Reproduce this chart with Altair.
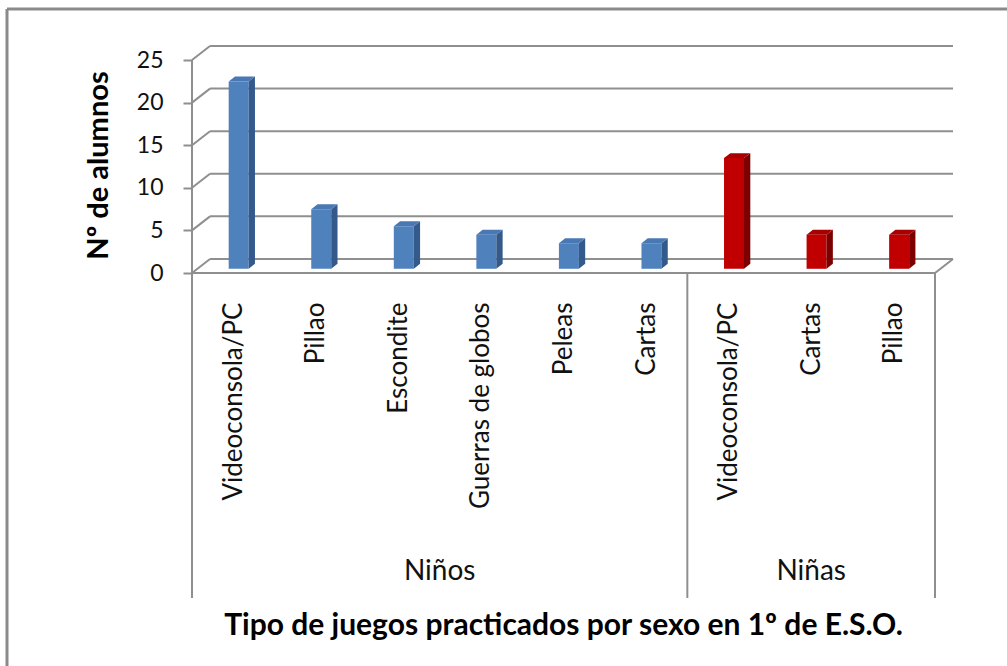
import altair as alt
import pandas as pd

# ---- data -------------------------------------------------------------
categories = ["Videoconsola/PC", "Pillao", "Escondite", "Guerras de globos",
              "Peleas", "Cartas", "Videoconsola/PC", "Cartas", "Pillao"]
groups = ["Niños"] * 6 + ["Niñas"] * 3
alumnos = [22, 7, 5, 4, 3, 3, 13, 4, 4]
group_names = ["Niños", "Niñas"]
y_ticks = [0, 5, 10, 15, 20, 25]
x_title = "Tipo de juegos practicados por sexo en 1º de E.S.O."
y_title = "Nº de alumnos"

# ---- 3D look (data units) ----------------------------------------------
DX = 0.218          # depth of the box along x (in categories)
DY = 1.65           # depth of the box along y (in alumnos)
F0, F1 = 0.30, 0.65 # front / back depth of each column
HALF = 0.121        # half width of a column's front face
N = len(categories)

palette = {
    "Niños": {"front": "#4F81BD", "side": "#345A8C", "top": "#4978B4"},
    "Niñas": {"front": "#C00000", "side": "#7C0000", "top": "#A80000"},
}
GRID = "#8F8F8F"
FONT = "Lato"

W, H = 761, 227
PAD = {"left": 192, "top": 46, "right": 1007 - 192 - W, "bottom": 666 - 46 - H}

xs = alt.Scale(domain=[0, N + DX], nice=False, zero=False)
ys = alt.Scale(domain=[0, 25 + DY], nice=False, zero=False)

# ---- column faces ------------------------------------------------------
front_rows, side_rows, top_rows = [], [], []
for i, (g, v) in enumerate(zip(groups, alumnos)):
    c = i + 0.5
    L = c - HALF + F0 * DX
    R = c + HALF + F0 * DX
    d = (F1 - F0) * DX
    b0, b1 = F0 * DY, F1 * DY
    t0, t1 = v + F0 * DY, v + F1 * DY
    col = palette[g]
    front_rows.append(dict(id=i, x=L, x2=R, y=b0, y2=t0, color=col["front"],
                           cat=categories[i], n=v))
    side_rows += [dict(id=i, x=R, yt=t0, yb=b0, color=col["side"]),
                  dict(id=i, x=R + d, yt=t1, yb=b1, color=col["side"])]
    top_rows += [dict(id=i, x=L, yt=t0, yb=t0, color=col["top"]),
                 dict(id=i, x=L + d, yt=t1, yb=t0, color=col["top"]),
                 dict(id=i, x=R, yt=t1, yb=t0, color=col["top"]),
                 dict(id=i, x=R + d, yt=t1, yb=t1, color=col["top"])]

front_df = pd.DataFrame(front_rows)
side_df = pd.DataFrame(side_rows)
top_df = pd.DataFrame(top_rows)

# ---- walls / floor -----------------------------------------------------
back_grid = pd.DataFrame({"x": [DX] * len(y_ticks), "x2": [N + DX] * len(y_ticks),
                          "y": [t + DY for t in y_ticks]})
side_wall = pd.DataFrame({"x": [0.0] * len(y_ticks), "x2": [DX] * len(y_ticks),
                          "y": y_ticks, "y2": [t + DY for t in y_ticks]})
floor = pd.DataFrame({"x": [0.0, N], "x2": [N, N + DX], "y": [0.0, 0.0], "y2": [0.0, DY]})

# vertical dividers of the category axis (left edge runs up to 25)
n_first = groups.count(group_names[0])
dividers = pd.DataFrame({"x": [0, n_first, N], "y": [25, 0, 0]})
group_lbl = pd.DataFrame({"name": group_names,
                          "x": [n_first / 2, n_first + (N - n_first) / 2]})

label_expr = "[" + ",".join(f"'{c}'" for c in categories) + "][round(datum.value - 0.5)]"

x_axis = alt.Axis(values=[i + 0.5 for i in range(N)], labelExpr=label_expr,
                  labelAngle=270, labelAlign="right", labelBaseline="middle",
                  labelPadding=29, labelFontSize=26, labelFont=FONT, labelColor="#111",
                  labelOverlap=False, labelFlush=False, labelBound=False, labelLimit=0,
                  ticks=False, domain=False, grid=False,
                  title=x_title, titleFont=FONT, titleFontSize=30, titleFontWeight="bold",
                  titleColor="#000", titleAnchor="start", titleAlign="center",
                  titleX=371, titleY=361, titleBaseline="alphabetic", titleLimit=0)
y_axis = alt.Axis(values=y_ticks, domain=False, grid=False,
                  ticks=True, tickSize=9, tickWidth=2, tickColor=GRID,
                  labelFontSize=23, labelFont=FONT, labelColor="#111", labelPadding=20,
                  title=y_title, titleFont=FONT, titleFontSize=29, titleFontWeight="bold",
                  titleColor="#000", titleAngle=270, titleAlign="center",
                  titleBaseline="alphabetic", titleX=-85, titleY=119, titleLimit=0)


def X(field):
    return alt.X(field, scale=xs, axis=x_axis)


def Y(field):
    return alt.Y(field, scale=ys, axis=y_axis)


line = dict(color=GRID, strokeWidth=2)

grid_back = alt.Chart(back_grid).mark_rule(**line).encode(
    x=X("x:Q"), x2="x2:Q", y=Y("y:Q"))
grid_side = alt.Chart(side_wall).mark_rule(**line).encode(
    x=X("x:Q"), x2="x2:Q", y=Y("y:Q"), y2="y2:Q")
floor_lines = alt.Chart(floor).mark_rule(**line).encode(
    x=X("x:Q"), x2="x2:Q", y=Y("y:Q"), y2="y2:Q")
divider_lines = alt.Chart(dividers).mark_rule(**line).encode(
    x=X("x:Q"), y=Y("y:Q"), y2=alt.value(552))

fronts = alt.Chart(front_df).mark_rect().encode(
    x=X("x:Q"), x2="x2:Q", y=Y("y:Q"), y2="y2:Q",
    color=alt.Color("color:N", scale=None),
    tooltip=["cat:N", "n:Q"])
sides = alt.Chart(side_df).mark_area(interpolate="linear").encode(
    x=X("x:Q"), y=Y("yt:Q"), y2="yb:Q",
    detail="id:N", color=alt.Color("color:N", scale=None))
tops = alt.Chart(top_df).mark_area(interpolate="linear").encode(
    x=X("x:Q"), y=Y("yt:Q"), y2="yb:Q",
    detail="id:N", color=alt.Color("color:N", scale=None))

group_text = alt.Chart(group_lbl).mark_text(
    font=FONT, fontSize=28, color="#111", baseline="middle", align="center").encode(
    x=X("x:Q"), y=alt.value(526), text="name:N")

# outer chart frame (top and left edges)
frame_top = alt.Chart(pd.DataFrame({"k": [0]})).mark_rule(color="#8A8A8A", strokeWidth=3).encode(
    x=alt.value(-185), x2=alt.value(W + 80), y=alt.value(-37))
frame_left = alt.Chart(pd.DataFrame({"k": [0]})).mark_rule(color="#8A8A8A", strokeWidth=3).encode(
    x=alt.value(-185), y=alt.value(-37), y2=alt.value(H + 420))

chart = alt.layer(
    grid_back, grid_side, floor_lines, divider_lines,
    fronts, sides, tops, group_text, frame_top, frame_left
).properties(
    width=W, height=H,
    autosize=alt.AutoSizeParams(type="none"),
    padding=PAD,
).configure(background="white").configure_view(stroke=None)

chart.save("out.html", embed_options={"renderer": "svg", "actions": False})
